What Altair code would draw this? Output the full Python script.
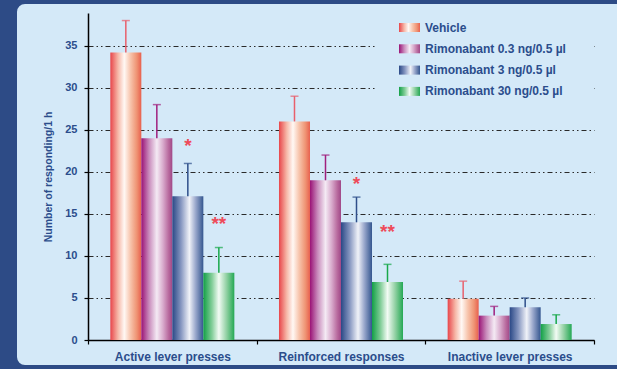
import altair as alt
import pandas as pd

groups = ["Active lever presses", "Reinforced responses", "Inactive lever presses"]
series = ["Vehicle", "Rimonabant 0.3 ng/0.5 µl", "Rimonabant 3 ng/0.5 µl", "Rimonabant 30 ng/0.5 µl"]

vehicle = [34.2, 26.0, 4.9]
rim_03 = [24.0, 19.0, 2.9]
rim_3 = [17.1, 14.0, 3.9]
rim_30 = [8.0, 6.9, 1.9]

vehicle_sem = [3.8, 3.0, 2.1]
rim_03_sem = [4.0, 3.0, 1.1]
rim_3_sem = [3.9, 3.0, 1.1]
rim_30_sem = [3.0, 2.1, 1.1]

star_group = [groups[0], groups[0], groups[1], groups[1]]
star_series = [series[2], series[3], series[2], series[3]]
star_text = ["*", "**", "*", "**"]
star_y = [23.7, 14.4, 19.2, 13.5]

y_ticks = [0, 5, 10, 15, 20, 25, 30, 35]

# ---- styles ----
FONT = "Liberation Sans"
TXT = "#2b4d8c"
PANEL = "#d4e9f8"
DARK = "#2d4b86"
STAR = "#ee4b5a"
err_colors = ["#e8606c", "#a0207e", "#2e4e8a", "#18a84a"]
grad_stops = [
    [(0, "#e8454a"), (0.25, "#f6b8a8"), (0.45, "#fff8f4"), (0.65, "#f7c4ac"), (0.85, "#ef9474"), (1, "#e8604e")],
    [(0, "#9a1276"), (0.25, "#c98cbc"), (0.5, "#f4eaf4"), (0.7, "#d8aacc"), (0.88, "#b86a9e"), (1, "#a04888")],
    [(0, "#2a4886"), (0.28, "#8696c0"), (0.55, "#f0f2f8"), (0.75, "#9aa8cc"), (1, "#34568f")],
    [(0, "#12a046"), (0.28, "#84ce9a"), (0.5, "#f2fbf4"), (0.75, "#90d0a2"), (1, "#24a854")],
]


def grad(stops):
    s = ",".join("{offset: %s, color: '%s'}" % (o, c) for o, c in stops)
    return {"expr": "{gradient: 'linear', x1: 0, y1: 0, x2: 1, y2: 0, stops: [" + s + "]}"}


rows = []
for name, vals, sems in zip(series, [vehicle, rim_03, rim_3, rim_30],
                            [vehicle_sem, rim_03_sem, rim_3_sem, rim_30_sem]):
    for g, v, e in zip(groups, vals, sems):
        rows.append({"group": g, "series": name, "value": v, "upper": v + e})
df = pd.DataFrame(rows)
stars = pd.DataFrame({"group": star_group, "series": star_series, "text": star_text, "y": star_y})

x_axis = alt.Axis(title=None, labelAngle=0, domainColor="black", domainWidth=1.5,
                  tickColor="black", tickSize=4, tickWidth=1.2, tickBand="extent",
                  labelFont=FONT, labelFontSize=12, labelFontWeight="bold",
                  labelColor=TXT, labelPadding=7, grid=False)
y_axis = alt.Axis(values=y_ticks, grid=True, gridColor="#2a2a2a",
                  gridDash=[5, 3, 1.5, 3, 1.5, 3], gridWidth=1,
                  domainColor="black", domainWidth=1.5, tickColor="black",
                  tickSize=4, tickWidth=1.2, labelFont=FONT, labelFontSize=11,
                  labelFontWeight="bold", labelColor=TXT, labelPadding=7,
                  title="Number of responding/1 h", titleFont=FONT, titleFontSize=10.5,
                  titleFontWeight="bold", titleColor=TXT, titleX=-40, titleY=163.5,
                  titleAngle=-90, titleAlign="center", titleBaseline="middle")


def X():
    return alt.X("group:N", sort=groups,
                 scale=alt.Scale(domain=groups, paddingInner=0, paddingOuter=0),
                 axis=x_axis)


def XO():
    return alt.XOffset("series:N", sort=series,
                       scale=alt.Scale(domain=series, paddingInner=0, paddingOuter=0.72))


def Y(field):
    return alt.Y(field, scale=alt.Scale(domain=[0, 38.9], nice=False), axis=y_axis)


bars = alt.Chart(df).mark_bar().encode(
    x=X(), xOffset=XO(), y=Y("value:Q"),
    color=alt.Color("series:N", sort=series,
                    scale=alt.Scale(domain=series, range=[grad(s) for s in grad_stops]),
                    legend=alt.Legend(title=None, orient="none", legendX=311, legendY=4,
                                      symbolType="M-1,-0.43H1V0.43H-1Z", symbolSize=441,
                                      symbolStrokeWidth=0, labelFont=FONT, labelFontSize=12,
                                      labelFontWeight="bold", labelColor=TXT, labelOffset=5,
                                      rowPadding=4.3, labelLimit=300, padding=0)),
)

rules = alt.Chart(df).mark_rule(strokeWidth=1.5).encode(
    x=X(), xOffset=XO(), y=Y("value:Q"), y2="upper:Q",
    stroke=alt.Stroke("series:N", scale=alt.Scale(domain=series, range=err_colors), legend=None),
)

caps = alt.Chart(df).mark_tick(thickness=1.5, size=8, orient="horizontal").encode(
    x=X(), xOffset=XO(), y=Y("upper:Q"),
    fill=alt.Fill("series:N", scale=alt.Scale(domain=series, range=err_colors), legend=None),
)

star_layer = alt.Chart(stars).mark_text(fontSize=19, fontWeight="bold", color=STAR,
                                        font=FONT, align="center", baseline="middle",
                                        dy=5).encode(
    x=X(), xOffset=XO(), y=Y("y:Q"), text="text:N",
)

dummy = pd.DataFrame({"k": [0]})
mask = alt.Chart(dummy).mark_rect(color=PANEL).encode(
    x=alt.value(287), x2=alt.value(506), y=alt.value(20), y2=alt.value(82)
)
frame = alt.Chart(dummy).mark_rect(fill="transparent", stroke=DARK, strokeWidth=60,
                                   cornerRadius=38).encode(
    x=alt.value(-101), x2=alt.value(700), y=alt.value(-39), y2=alt.value(382)
)

chart = alt.layer(bars, rules, caps, star_layer, mask, frame).properties(
    width=506, height=327,
    padding={"left": 88, "top": 13, "right": 23, "bottom": 29},
    autosize=alt.AutoSizeParams(type="none"),
    background=PANEL,
).configure_view(stroke=None)

chart.save("out.html", embed_options={"renderer": "svg", "actions": False})
